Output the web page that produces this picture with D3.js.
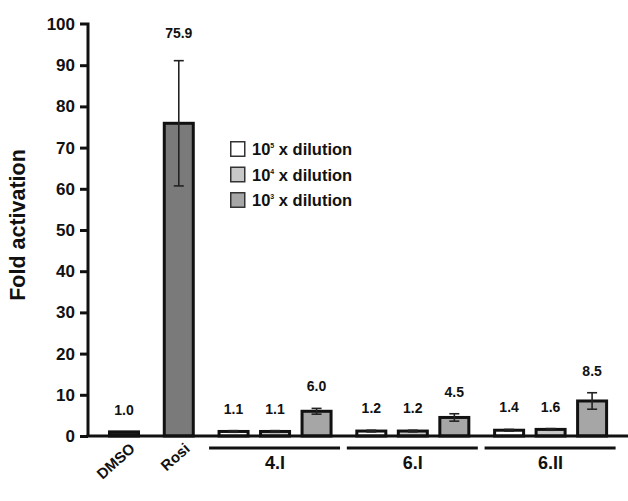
<!DOCTYPE html>
<html><head><meta charset="utf-8">
<script src="https://cdn.jsdelivr.net/npm/d3@7"></script>
<style>body{margin:0;background:#fff}svg{display:block}text{font-family:"Liberation Sans",Arial,sans-serif;font-weight:bold;fill:#111}</style>
</head><body>
<script>
const controls = ["DMSO", "Rosi"];
const controlValues = [1.0, 75.9];
const controlErrors = [0, 15.2];
const treatGroups = ["4.I", "6.I", "6.II"];
const seriesExp = ["5", "4", "3"];
const dil5 = [1.1, 1.2, 1.4];
const dil4 = [1.1, 1.2, 1.6];
const dil3 = [6.0, 4.5, 8.5];
const err5 = [0.2, 0.2, 0.2];
const err4 = [0.2, 0.2, 0.2];
const err3 = [0.7, 0.9, 2.0];
const yTicks = [0,10,20,30,40,50,60,70,80,90,100];

const W = 628, H = 501;
const fills = ["#ffffff", "#c8c8c8", "#a6a6a6"];
const rosiFill = "#7a7a7a";

const svg = d3.select("body").append("svg").attr("width", W).attr("height", H);
const y = d3.scaleLinear().domain([0, 100]).range([436, 24]);

const groupGap = 1.32;
const bars = [];
let pos = 0;
controls.forEach((c, i) => {
  bars.push({pos, v: controlValues[i], e: controlErrors[i], fill: i === 0 ? "#222" : rosiFill});
  pos += groupGap;
});
const groupSpans = [];
const seriesVals = [dil5, dil4, dil3], seriesErr = [err5, err4, err3];
treatGroups.forEach((g, gi) => {
  const start = pos;
  seriesVals.forEach((arr, si) => {
    bars.push({pos, v: arr[gi], e: seriesErr[si][gi], fill: fills[si]});
    pos += 1;
  });
  groupSpans.push({g, start, end: pos - 1});
  pos += groupGap - 1;
});
const x = d3.scaleLinear().domain([0, 11.28]).range([124, 592.1]);
const bw = 29;

svg.append("g").selectAll("rect").data(bars).join("rect")
  .attr("x", d => x(d.pos) - bw/2).attr("width", bw)
  .attr("y", d => y(d.v)).attr("height", d => y(0) - y(d.v))
  .attr("fill", d => d.fill).attr("stroke", "#111").attr("stroke-width", 3);

const eg = svg.append("g").attr("stroke", "#222").attr("stroke-width", 1.6);
bars.filter(d => d.e > 0).forEach(d => {
  const cx = x(d.pos);
  eg.append("line").attr("x1", cx).attr("x2", cx).attr("y1", y(d.v + d.e)).attr("y2", y(d.v - d.e));
  eg.append("line").attr("x1", cx - 5).attr("x2", cx + 5).attr("y1", y(d.v + d.e)).attr("y2", y(d.v + d.e));
  eg.append("line").attr("x1", cx - 5).attr("x2", cx + 5).attr("y1", y(d.v - d.e)).attr("y2", y(d.v - d.e));
});

svg.append("g").selectAll("text").data(bars).join("text")
  .attr("x", d => x(d.pos)).attr("y", d => y(d.v + d.e) - (d.v > 50 ? 23 : 17))
  .attr("text-anchor", "middle").attr("font-size", 14)
  .text(d => d.v.toFixed(1));

const ya = svg.append("g").attr("transform", "translate(88,0)")
  .call(d3.axisLeft(y).tickValues(yTicks).tickSize(8).tickPadding(5));
ya.select(".domain").attr("stroke", "#111").attr("stroke-width", 3).attr("d", `M-8,${y(100)}H0V${y(0)}`);
ya.selectAll(".tick line").attr("stroke", "#111").attr("stroke-width", 3);
ya.selectAll(".tick text").attr("font-size", 17).attr("font-family", "Liberation Sans, Arial, sans-serif").attr("font-weight", "bold").attr("fill", "#111");
ya.selectAll(".tick").filter(d => d === 100).select("line").remove();

svg.append("line").attr("x1", 86.5).attr("x2", 628).attr("y1", y(0)).attr("y2", y(0))
  .attr("stroke", "#111").attr("stroke-width", 3);

// control labels rotated (explicit matrix)
const ang = -42 * Math.PI / 180, ca = Math.cos(ang), sa = Math.sin(ang);
controls.forEach((c, i) => {
  const tx = x(bars[i].pos) + 12, ty = y(0) + 14;
  svg.append("text")
    .attr("transform", `matrix(${ca},${sa},${-sa},${ca},${tx},${ty})`)
    .style("transform", `translate(${tx}px,${ty}px) rotate(-42deg)`)
    .attr("text-anchor", "end").attr("font-size", 15).text(c);
});

const gg = svg.append("g");
groupSpans.forEach(s => {
  gg.append("line").attr("x1", x(s.start) - bw/2 - 10).attr("x2", x(s.end) + bw/2 + 9)
    .attr("y1", 448).attr("y2", 448).attr("stroke", "#111").attr("stroke-width", 3);
  gg.append("text").attr("x", (x(s.start) + x(s.end)) / 2).attr("y", 469)
    .attr("text-anchor", "middle").attr("font-size", 18).text(s.g);
});

svg.append("text").attr("transform", `translate(25,225) rotate(-90)`)
  .attr("text-anchor", "middle").attr("font-size", 21.5).text("Fold activation");

const lg = svg.append("g").attr("transform", "translate(230,141)");
seriesExp.forEach((e, i) => {
  const row = lg.append("g").attr("transform", `translate(0,${i * 25.5})`);
  row.append("rect").attr("x", 0.75).attr("y", 0.75).attr("width", 14).attr("height", 14.5)
    .attr("fill", fills[i]).attr("stroke", "#333").attr("stroke-width", 1.5);
  const t = row.append("text").attr("x", 22).attr("y", 14).attr("font-size", 16.5);
  t.append("tspan").text("10");
  t.append("tspan").attr("dy", -7).attr("font-size", 7).text(e);
  t.append("tspan").attr("dy", 7).text(" x dilution");
});
</script>
</body></html>
